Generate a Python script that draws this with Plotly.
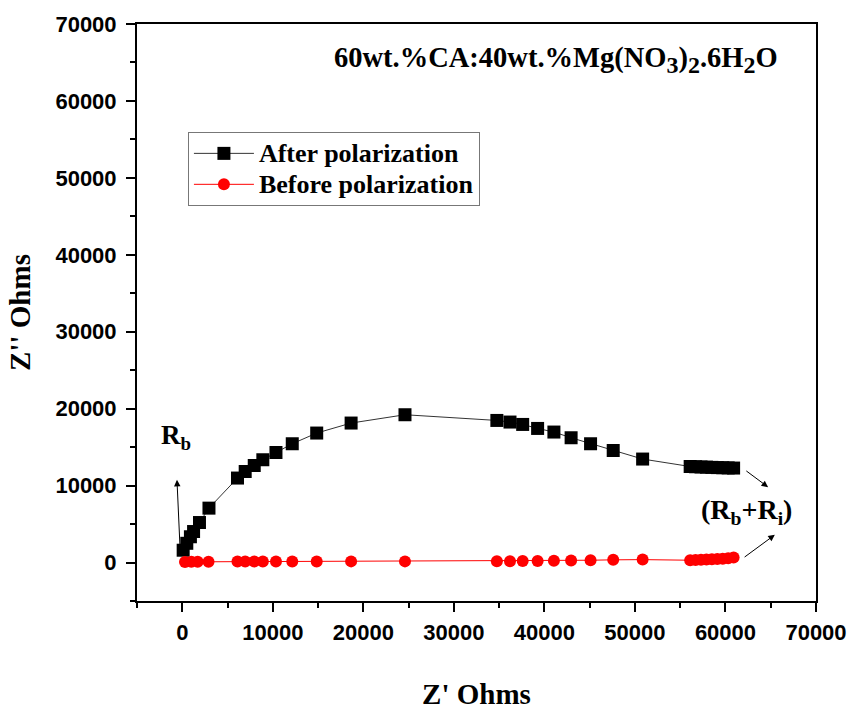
import plotly.graph_objects as go

# ---- data ----
after_x = [100, 500, 900, 1250, 1900, 2950, 6100, 6950, 7950, 8900, 10350, 12150,
           14850, 18650, 24600, 34750, 36200, 37600, 39250, 41050, 42950, 45100,
           47600, 50850, 56100, 56700, 57300, 57900, 58500, 59100, 59700, 60300, 60900]
after_y = [1600, 2500, 3350, 4030, 5200, 7070, 10980, 11830, 12610, 13360, 14300, 15440,
           16830, 18130, 19210, 18470, 18260, 17950, 17430, 16960, 16220, 15440,
           14560, 13450, 12480, 12450, 12420, 12400, 12370, 12340, 12320, 12300, 12280]

before_x = [300, 1000, 1700, 2900, 6100, 6950, 7950, 8900, 10350, 12150, 14850, 18650,
            24600, 34750, 36200, 37600, 39250, 41050, 42950, 45100, 47600, 50850,
            56100, 56700, 57300, 57900, 58500, 59100, 59700, 60300, 60900]
before_y = [80, 90, 100, 110, 120, 120, 130, 130, 130, 140, 140, 150,
            150, 170, 180, 190, 200, 220, 250, 300, 350, 380,
            300, 330, 360, 390, 420, 460, 500, 560, 650]

tick_vals = [0, 10000, 20000, 30000, 40000, 50000, 60000, 70000]
tick_text = [str(v) for v in tick_vals]

series_names = ["After polarization", "Before polarization"]

SERIF = "Liberation Serif"
SANS = "Liberation Sans"

big = lambda s: '<span style="font-size:26px">' + s + '</span>'

fig = go.Figure()
fig.add_trace(go.Scatter(
    x=after_x, y=after_y, mode="lines+markers", name=big(series_names[0]),
    line=dict(color="#333333", width=1),
    marker=dict(symbol="square", size=13, color="black"),
))
fig.add_trace(go.Scatter(
    x=before_x, y=before_y, mode="lines+markers", name=big(series_names[1]),
    line=dict(color="red", width=1),
    marker=dict(symbol="circle", size=12, color="red"),
))

axis_common = dict(
    range=[-5000, 70000],
    tickvals=tick_vals, ticktext=tick_text,
    ticks="outside", ticklen=9, tickwidth=2, tickcolor="black",
    minor=dict(dtick=5000, tick0=0, ticks="outside", ticklen=5, tickwidth=2, tickcolor="black"),
    showline=True, linewidth=2, linecolor="black", mirror=True,
    showgrid=False, zeroline=False, automargin=False,
    tickfont=dict(family=SANS, size=22, color="black", weight="bold"),
)

fig.update_xaxes(**axis_common, ticklabelstandoff=2,
                 title=dict(text="Z' Ohms", standoff=42,
                            font=dict(family=SERIF, size=29, color="black", weight="bold")))
fig.update_yaxes(**axis_common, ticklabelstandoff=5,
                 title=dict(text="Z'' Ohms", standoff=16,
                            font=dict(family=SERIF, size=29, color="black", weight="bold")))

ann_font = dict(family=SERIF, color="black", weight="bold")
sub = lambda s: '<sub><span style="font-size:24px">' + s + '</span></sub>'
fig.update_layout(
    width=849, height=710,
    margin=dict(l=137, r=33, t=24, b=109, autoexpand=False),
    paper_bgcolor="white", plot_bgcolor="white",
    showlegend=True,
    legend=dict(x=0.075, y=0.813, xanchor="left", yanchor="top",
                bgcolor="white", bordercolor="#777777", borderwidth=1,
                font=dict(family=SERIF, size=21.5, color="black", weight="bold"),
                itemwidth=60, tracegroupgap=0),
    annotations=[
        dict(x=41280, y=65350, xref="x", yref="y", showarrow=False,
             text="60wt.%CA:40wt.%Mg(NO" + sub("3") + ")" + sub("2") + ".6H" + sub("2") + "O",
             font=dict(size=28.5, **ann_font)),
        dict(x=-660, y=16350, xref="x", yref="y", showarrow=False,
             text="R<sub>b</sub>", font=dict(size=27, **ann_font)),
        dict(x=62360, y=6590, xref="x", yref="y", showarrow=False,
             text="(R<sub>b</sub>+R<sub>i</sub>)", font=dict(size=28, **ann_font)),
        dict(x=-585, y=10750, ax=-220, ay=1260, xref="x", yref="y", axref="x", ayref="y",
             showarrow=True, arrowhead=2, arrowsize=1.3, arrowwidth=1, arrowcolor="black", text=""),
        dict(x=64710, y=9800, ax=62140, ay=12050, xref="x", yref="y", axref="x", ayref="y",
             showarrow=True, arrowhead=2, arrowsize=1.3, arrowwidth=1, arrowcolor="black", text=""),
        dict(x=65450, y=3600, ax=61950, ay=570, xref="x", yref="y", axref="x", ayref="y",
             showarrow=True, arrowhead=2, arrowsize=1.3, arrowwidth=1, arrowcolor="black", text=""),
    ],
)

fig.write_html("out.html")
